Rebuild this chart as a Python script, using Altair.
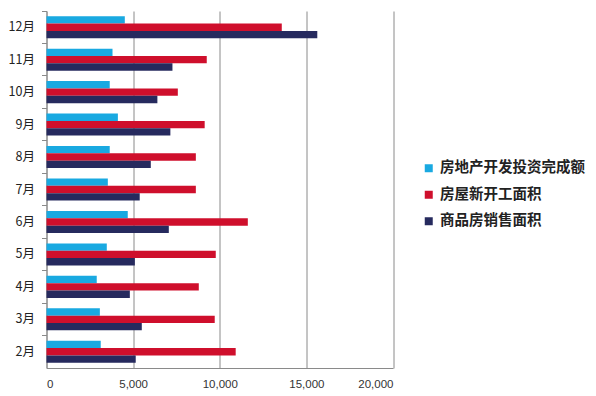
import altair as alt
import pandas as pd

months = ["2月", "3月", "4月", "5月", "6月", "7月", "8月", "9月", "10月", "11月", "12月"]
series = ["房地产开发投资完成额", "房屋新开工面积", "商品房销售面积"]
colors = ["#19a9e1", "#cf0f2c", "#262a5e"]

invest = [3130, 3080, 2900, 3480, 4690, 3540, 3650, 4120, 3650, 3810, 4520]
new_start = [10920, 9710, 8790, 9770, 11620, 8620, 8620, 9130, 7580, 9250, 13580]
sales = [5150, 5500, 4810, 5100, 7060, 5380, 6020, 7150, 6400, 7270, 15630]

rows = []
for vals, s in zip([invest, new_start, sales], series):
    for m, v in zip(months, vals):
        rows.append({"month": m, "series": s, "value": v})
df = pd.DataFrame(rows)

FONT = "Noto Sans CJK SC"

chart = alt.Chart(df).mark_bar().encode(
    x=alt.X("value:Q",
            scale=alt.Scale(domain=[0, 20000], nice=False),
            axis=alt.Axis(values=[0, 5000, 10000, 15000, 20000], format=",.0f",
                          title=None, ticks=False, grid=True, gridColor="#8a8a8a",
                          gridWidth=1, domainColor="#8a8a8a", labelFont="Liberation Sans",
                          labelFontSize=11.5, labelColor="#333333", labelPadding=10)),
    y=alt.Y("month:N", sort=list(reversed(months)),
            scale=alt.Scale(paddingInner=0, paddingOuter=0),
            axis=alt.Axis(title=None, bandPosition=0, tickSize=5, tickColor="#8a8a8a",
                          domainColor="#8a8a8a", labelFont=FONT, labelFontSize=12.5,
                          labelColor="#222222", labelPadding=7, grid=False)),
    yOffset=alt.YOffset("series:N", sort=series,
                        scale=alt.Scale(paddingInner=0, paddingOuter=0.71)),
    color=alt.Color("series:N", sort=series,
                    scale=alt.Scale(domain=series, range=colors),
                    legend=alt.Legend(title=None, orient="none", legendX=375, legendY=150,
                                      symbolType="square", symbolSize=64, symbolStrokeWidth=0,
                                      labelFont=FONT, labelFontSize=14.5, labelFontWeight="bold",
                                      labelColor="#222222", rowPadding=11.5, labelOffset=4,
                                      labelLimit=300)),
).properties(
    width=346.5,
    height=357,
    autosize=alt.AutoSizeParams(type="none"),
    padding={"left": 38.5, "top": 3, "right": 194, "bottom": 23},
).configure_view(stroke=None)

chart.save("out.html", embed_options={"renderer": "svg", "actions": False})
